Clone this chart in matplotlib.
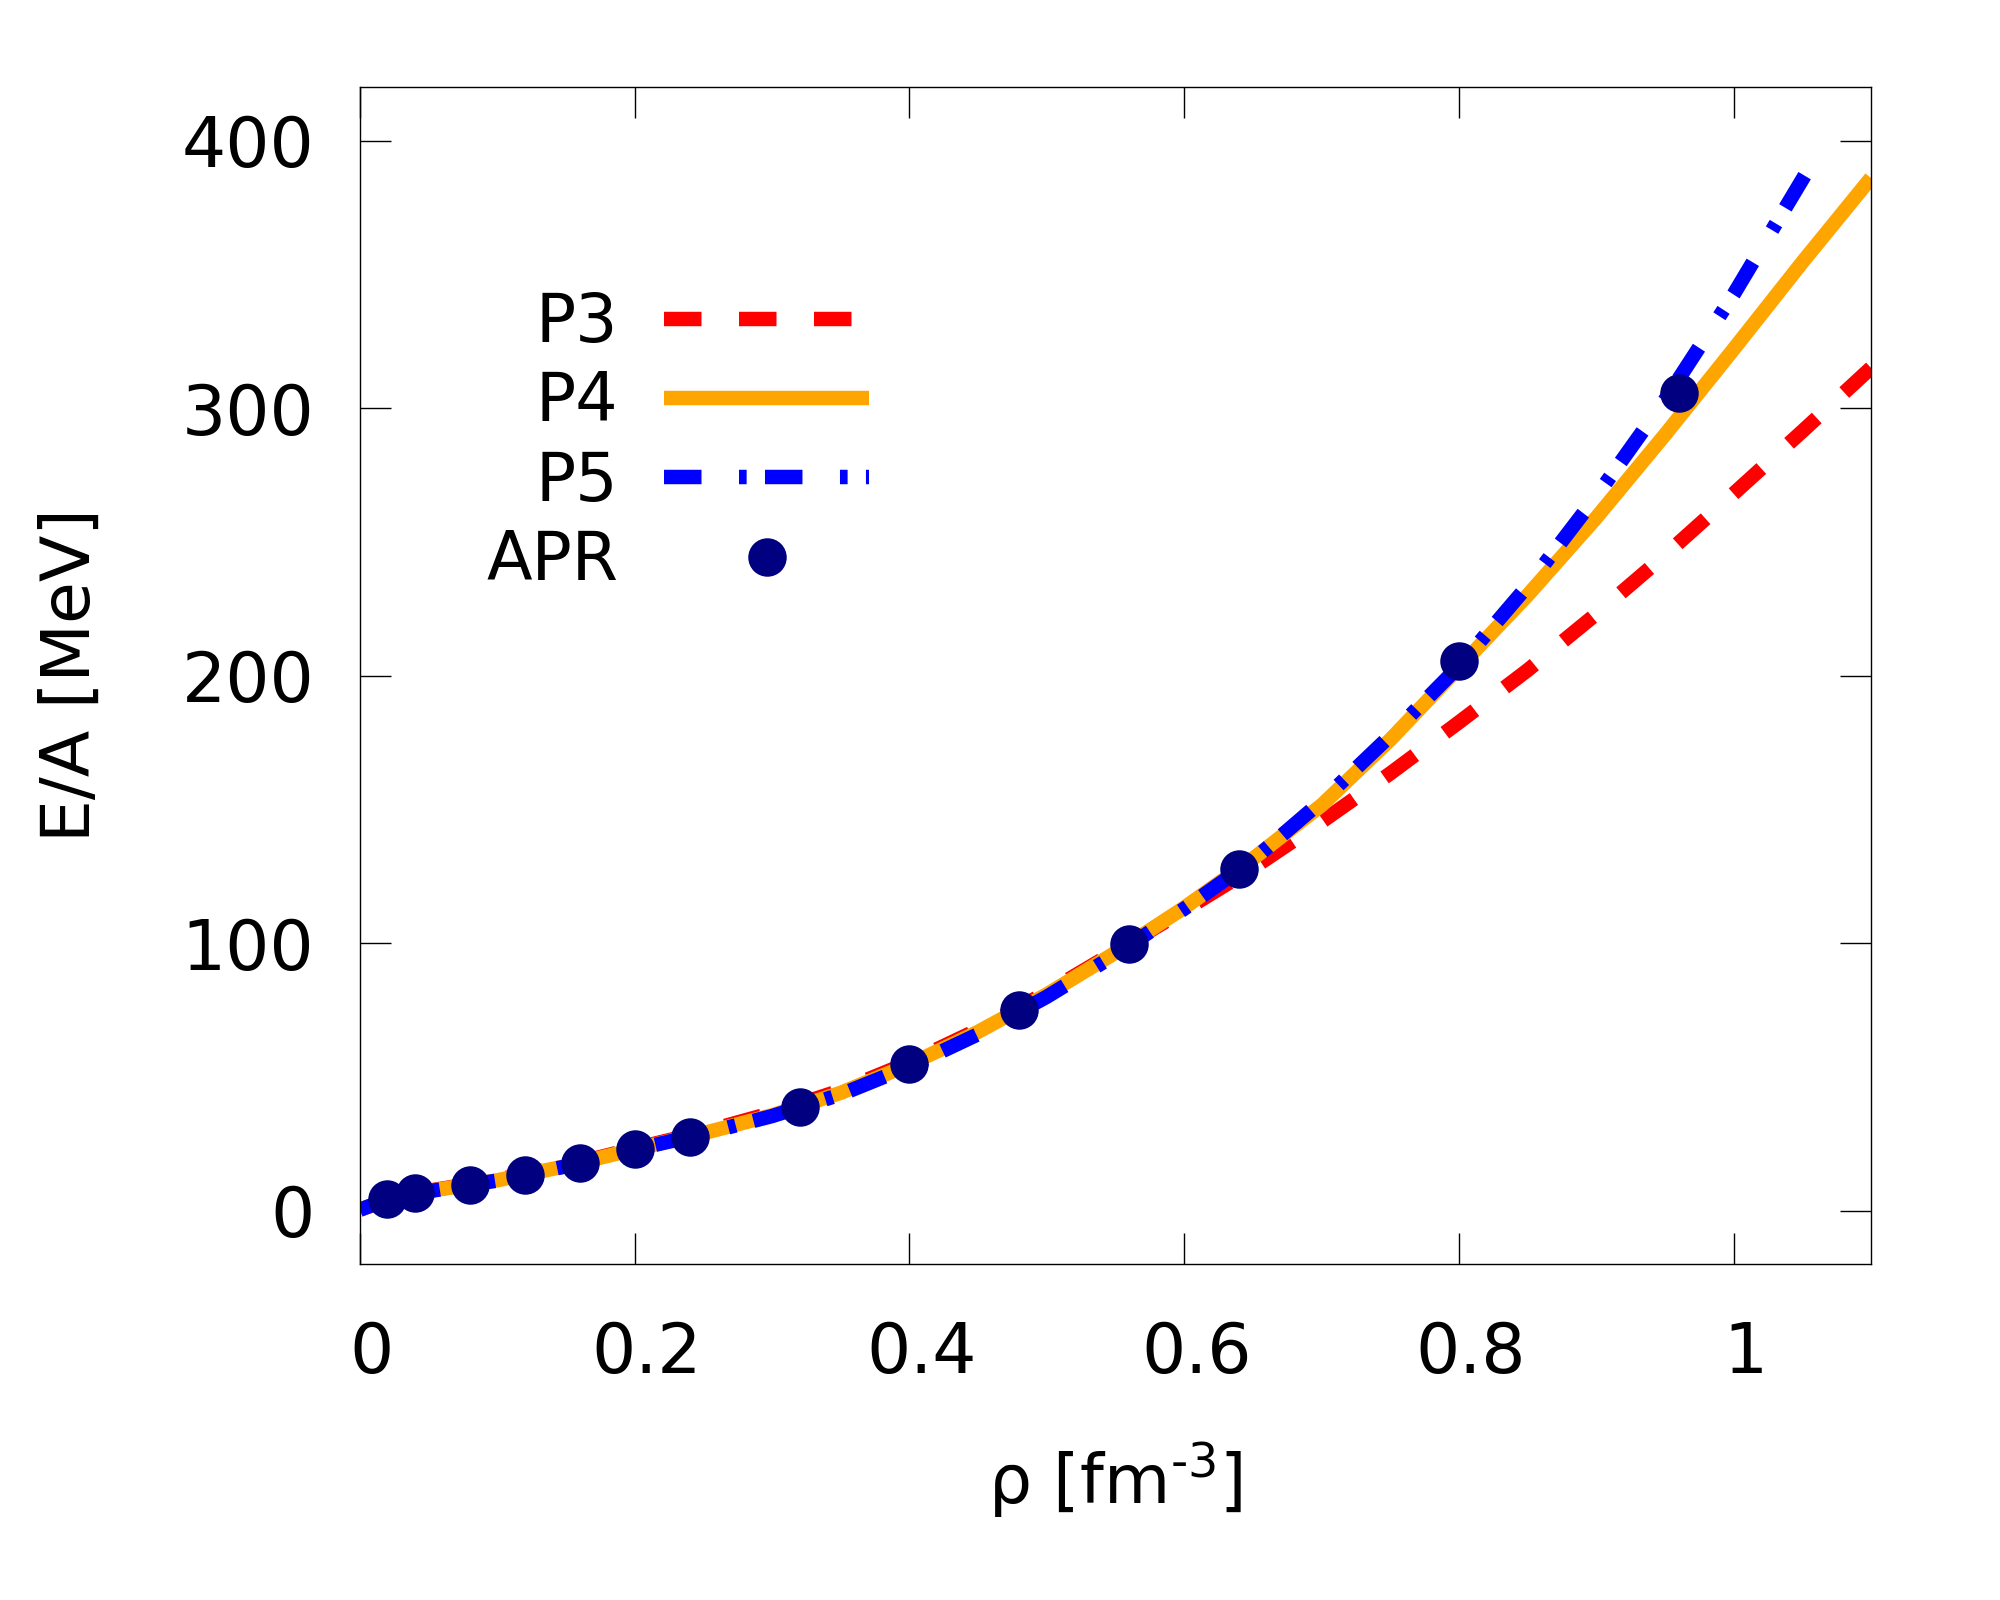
#
# E/A of neutron matter vs density - polynomial fits P3, P4, P5 against APR
#
import matplotlib
matplotlib.use('Agg')
import matplotlib.pyplot as plt
from matplotlib.transforms import ScaledTranslation

# APR points
rho_apr = [0.02, 0.04, 0.08, 0.12, 0.16, 0.20, 0.24, 0.32, 0.40, 0.48, 0.56, 0.64, 0.80, 0.96]
ea_apr = [4.4, 6.5, 9.5, 13.2, 17.8, 23.0, 27.5, 38.7, 54.8, 75.0, 99.5, 127.6, 205.3, 305.7]

# fitted curves
rho_fit = [0.0, 0.02, 0.05, 0.10, 0.15, 0.20, 0.25, 0.30, 0.35, 0.40, 0.45, 0.50,
           0.55, 0.60, 0.65, 0.70, 0.75, 0.80, 0.85, 0.90, 0.95, 1.00, 1.05, 1.10]
ea_p3 = [0.3, 4.0, 7.4, 11.5, 16.8, 23.2, 29.4, 36.5, 44.9, 55.4, 67.6, 81.6,
         96.8, 112.2, 128.0, 145.3, 163.4, 182.5, 202.0, 223.0, 245.0, 268.0, 291.3, 315.0]
ea_p4 = [0.3, 4.2, 7.3, 11.3, 16.6, 22.9, 28.9, 35.6, 44.0, 54.6, 66.8, 80.8,
         96.4, 113.2, 131.5, 151.5, 176.0, 203.0, 230.0, 259.0, 290.0, 322.0, 354.5, 386.0]
rho_p5 = [0.0, 0.02, 0.05, 0.10, 0.15, 0.20, 0.25, 0.30, 0.35, 0.40, 0.45, 0.50,
          0.55, 0.60, 0.65, 0.70, 0.75, 0.80, 0.85, 0.90, 0.95, 1.00, 1.053]
ea_p5 = [0.3, 4.2, 7.2, 11.2, 16.5, 22.8, 28.7, 35.3, 43.4, 53.8, 65.9, 79.9,
         95.6, 112.8, 131.0, 153.0, 177.5, 203.5, 233.5, 267.0, 303.0, 342.5, 388.0]

xticks = [0, 0.2, 0.4, 0.6, 0.8, 1.0]
xticklabels = ['0', '0.2', '0.4', '0.6', '0.8', '1']
yticks = [0, 100, 200, 300, 400]

plt.rcParams['font.family'] = ['DejaVu Sans']
plt.rcParams['mathtext.fontset'] = 'dejavusans'
plt.rcParams['lines.scale_dashes'] = False
plt.rcParams['lines.solid_capstyle'] = 'butt'

fig = plt.figure(figsize=(20, 16), dpi=100)
ax = fig.add_axes([0.18, 0.2100, 0.7555, 0.7356])

lw = 10.4
ax.plot(rho_fit, ea_p3, color='#ff0000', lw=lw, linestyle=(0, (27, 27)), label='P3')
ax.plot(rho_fit, ea_p4, color='#ffa500', lw=lw, label='P4')
ax.plot(rho_p5, ea_p5, color='#0000ff', lw=lw, linestyle=(0, (27, 27, 5.5, 13.2)), label='P5')
ax.plot(rho_apr, ea_apr, 'o', color='#000080', markersize=27.7, markeredgewidth=0, label='APR')

ax.set_xlim(0, 1.1)
ax.set_ylim(-20, 420)
ax.set_xticks(xticks)
ax.set_xticklabels(xticklabels)
ax.set_yticks(yticks)

for sp in ax.spines.values():
    sp.set_linewidth(1.0)
ax.tick_params(which='both', direction='in', length=22.3, width=1.0,
               top=True, right=True, labelsize=50)
ax.tick_params(axis='x', pad=40)
ax.tick_params(axis='y', pad=33)

# gnuplot puts the x tick labels slightly to the right
for lab in ax.get_xticklabels():
    lab.set_transform(lab.get_transform() + ScaledTranslation(0.12, 0, fig.dpi_scale_trans))

# short hyphen in the exponent, like the original
ax.set_xlabel('ρ [fm$^{\\mathregular{\u2010 3}}$]', fontsize=49, va='baseline')
ax.xaxis.set_label_coords(0.5, -0.204)
ax.set_ylabel('E/A [MeV]', fontsize=49, va='baseline')
ax.yaxis.set_label_coords(-0.179, 0.5)

leg = ax.legend(loc='upper right', bbox_to_anchor=(869 / 2000, 1 - 290 / 1600),
                bbox_transform=fig.transFigure, frameon=False, markerfirst=False,
                fontsize=48, handlelength=3.07, handletextpad=0.69,
                labelspacing=0.2, borderpad=0, borderaxespad=0, numpoints=1)

fig.savefig('out.png', dpi=100)
